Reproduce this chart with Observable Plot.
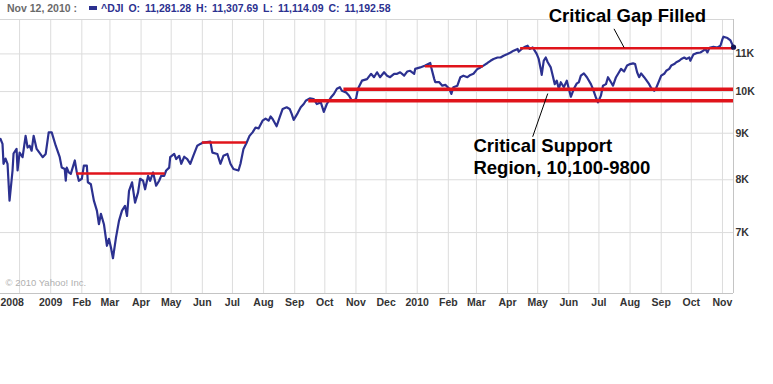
<!DOCTYPE html>
<html>
<head>
<meta charset="utf-8">
<script src="https://cdn.jsdelivr.net/npm/d3@7"></script>
<script src="https://cdn.jsdelivr.net/npm/@observablehq/plot@0.6"></script>
<style>
html, body { margin: 0; padding: 0; background: #fff; }
#wrap { position: relative; width: 773px; height: 384px; font-family: "Liberation Sans", Arial, sans-serif; }
#hdr { position: absolute; left: 7px; top: 2px; font-size: 10.5px; font-weight: bold; line-height: 13px; white-space: pre; }
#hdr .date { color: #6a6a6a; }
#hdr .sw { display: inline-block; width: 8px; height: 4px; background: #2c3190; margin-left: 12px; margin-right: 4px; position: relative; top: -2px; }
#hdr .q { color: #2c3190; word-spacing: 2px; }
#chart svg text { font-family: "Liberation Sans", Arial, sans-serif; }
</style>
</head>
<body>
<div id="wrap">
  <div id="chart"></div>
  <div id="hdr"></div>
</div>
<script>
// ---- header ----
const headerDate = "Nov 12, 2010 :";
const symbol = "^DJI";
const quoteLabels = ["O", "H", "L", "C"];
const quoteValues = [11281.28, 11307.69, 11114.09, 11192.58];

// ---- axes ----
const xDomain = ["2008-11-12", "2010-11-12"];
const yDomain = [6000, 12000];
const yTicks = [7000, 8000, 9000, 10000, 11000];
const xTickStart = "2008-12-01";
const xTickLabels = ["2008", "2009", "Feb", "Mar", "Apr", "May", "Jun", "Jul", "Aug", "Sep", "Oct", "Nov",
                     "Dec", "2010", "Feb", "Mar", "Apr", "May", "Jun", "Jul", "Aug", "Sep", "Oct", "Nov"];
const copyright = "© 2010 Yahoo! Inc.";

// ---- Dow Jones series ----
const djiDates = [
  "2008-11-12","2008-11-14","2008-11-15","2008-11-17","2008-11-19","2008-11-21","2008-11-24","2008-11-25","2008-11-28","2008-11-29",
  "2008-12-01","2008-12-04","2008-12-07","2008-12-09","2008-12-11","2008-12-13","2008-12-15","2008-12-18","2008-12-24","2008-12-27","2008-12-30",
  "2009-01-02","2009-01-06","2009-01-10","2009-01-12","2009-01-15","2009-01-16","2009-01-17","2009-01-19","2009-01-21","2009-01-25","2009-01-27","2009-01-29",
  "2009-02-01","2009-02-03","2009-02-06","2009-02-07","2009-02-10","2009-02-13","2009-02-16","2009-02-18","2009-02-20","2009-02-23","2009-02-26","2009-02-28",
  "2009-03-02","2009-03-04","2009-03-07","2009-03-10","2009-03-13","2009-03-16","2009-03-18","2009-03-20","2009-03-23","2009-03-26","2009-03-29","2009-03-31",
  "2009-04-03","2009-04-05","2009-04-08","2009-04-10","2009-04-13","2009-04-16","2009-04-19","2009-04-21","2009-04-24","2009-04-26","2009-04-29","2009-04-30",
  "2009-05-04","2009-05-06","2009-05-09","2009-05-11","2009-05-14","2009-05-17","2009-05-20","2009-05-23","2009-05-27","2009-05-30",
  "2009-06-02","2009-06-09","2009-06-11","2009-06-16","2009-06-19","2009-06-22","2009-06-26","2009-06-29",
  "2009-07-02","2009-07-07","2009-07-09","2009-07-12","2009-07-15","2009-07-18","2009-07-21","2009-07-24","2009-07-27","2009-07-31",
  "2009-08-03","2009-08-06","2009-08-08","2009-08-10","2009-08-14","2009-08-17","2009-08-20","2009-08-24","2009-08-27","2009-08-29","2009-08-31",
  "2009-09-04","2009-09-07","2009-09-10","2009-09-12","2009-09-16","2009-09-20","2009-09-23","2009-09-27","2009-09-30",
  "2009-10-03","2009-10-07","2009-10-10","2009-10-13","2009-10-16","2009-10-18","2009-10-22","2009-10-25","2009-10-28",
  "2009-11-01","2009-11-03","2009-11-07","2009-11-12","2009-11-16","2009-11-19","2009-11-22","2009-11-25","2009-11-29",
  "2009-12-02","2009-12-05","2009-12-09","2009-12-12","2009-12-15","2009-12-19","2009-12-22","2009-12-25","2009-12-29","2009-12-30",
  "2010-01-04","2010-01-09","2010-01-14","2010-01-15","2010-01-18","2010-01-19","2010-01-23","2010-01-26","2010-01-29",
  "2010-02-02","2010-02-04","2010-02-06","2010-02-10","2010-02-13","2010-02-16","2010-02-20","2010-02-23","2010-02-26",
  "2010-03-02","2010-03-05","2010-03-08","2010-03-12","2010-03-15","2010-03-18","2010-03-22","2010-03-25","2010-03-28",
  "2010-04-01","2010-04-04","2010-04-07","2010-04-11","2010-04-12","2010-04-16","2010-04-19","2010-04-21","2010-04-23","2010-04-26","2010-04-28","2010-04-30",
  "2010-05-02","2010-05-04","2010-05-05","2010-05-07","2010-05-09","2010-05-11","2010-05-14","2010-05-16","2010-05-18","2010-05-20","2010-05-22","2010-05-24","2010-05-27","2010-05-30",
  "2010-06-01","2010-06-03","2010-06-06","2010-06-09","2010-06-11","2010-06-13","2010-06-16","2010-06-19","2010-06-23","2010-06-25","2010-06-28","2010-06-30",
  "2010-07-03","2010-07-05","2010-07-08","2010-07-10","2010-07-13","2010-07-15","2010-07-18","2010-07-21","2010-07-23","2010-07-26","2010-07-29",
  "2010-08-01","2010-08-04","2010-08-06","2010-08-08","2010-08-10","2010-08-12","2010-08-15","2010-08-17","2010-08-20","2010-08-22","2010-08-25","2010-08-27","2010-08-30",
  "2010-09-01","2010-09-04","2010-09-06","2010-09-09","2010-09-11","2010-09-14","2010-09-16","2010-09-19","2010-09-21","2010-09-24","2010-09-26","2010-09-29","2010-09-30",
  "2010-10-03","2010-10-06","2010-10-10","2010-10-13","2010-10-15","2010-10-17","2010-10-19","2010-10-23","2010-10-27","2010-10-30",
  "2010-11-01","2010-11-02","2010-11-06","2010-11-09","2010-11-12"
];
const djiValues = [
  8870,8760,8330,8440,8330,7590,8190,8550,8650,8190,
  8570,8470,8940,8680,8720,8610,8940,8650,8470,8540,9020,
  9020,8720,8470,8250,8220,7980,8250,8150,8120,8400,8150,7980,
  8020,8290,8290,7950,7910,7590,7400,7150,7340,7150,6770,6890,
  6740,6560,6910,7210,7400,7490,7300,7780,7950,7550,7750,8020,
  7980,7810,8080,7980,8150,7880,7980,8080,8080,8190,8250,8470,
  8540,8430,8500,8330,8480,8430,8330,8500,8720,8760,
  8790,8810,8570,8540,8330,8500,8540,8330,
  8220,8190,8330,8650,8780,8940,9020,9130,9110,9290,
  9340,9290,9390,9330,9160,9370,9570,9610,9570,9450,9310,
  9470,9610,9690,9770,9830,9810,9690,9730,9500,
  9690,9850,9940,10070,10110,10020,9980,9900,9770,
  9810,10070,10280,10320,10460,10370,10500,10370,10500,
  10410,10370,10460,10460,10500,10410,10520,10540,10460,10590,
  10630,10680,10750,10630,10320,10240,10240,10150,10170,
  10070,9940,10110,10150,10370,10410,10370,10430,10460,
  10590,10630,10680,10750,10810,10860,10900,10900,10950,
  11000,11040,11090,11140,11060,11160,11210,11230,11140,11180,11090,11000,
  10860,10590,10430,10810,10900,10770,10630,10410,10190,10280,10070,10240,10110,10280,
  10070,9870,10070,10210,10240,10410,10470,10370,10190,10070,9850,9730,
  9900,10150,10190,10370,10240,10150,10370,10500,10590,10520,10680,
  10720,10740,10720,10500,10370,10470,10370,10300,10190,10090,10020,10090,10280,
  10410,10460,10540,10590,10680,10720,10770,10810,10860,10900,10860,10900,10810,
  10980,11020,11040,11090,11140,11040,11170,11200,11180,11230,
  11420,11490,11450,11380,11190
];

// ---- hand-drawn level lines ----
const levelStarts = ["2009-01-27", "2009-06-01", "2010-01-09", "2010-04-14"];
const levelEnds   = ["2009-04-25", "2009-07-15", "2010-03-08", "2010-11-12"];
const levelValues = [8130, 8790, 10660, 11160];
const supportStarts = ["2009-10-20", "2009-09-15"];
const supportEnds   = ["2010-11-12", "2010-11-12"];
const supportValues = [10060, 9770];

// ---- annotations ----
const noteTexts  = ["Critical Gap Filled", "Critical Support", "Region, 10,100-9800"];
const noteDates  = ["2010-05-12", "2010-02-26", "2010-02-26"];
const noteValues = [12090, 8710, 8240];
const leaderFromDates  = ["2010-07-16", "2010-04-26"];
const leaderFromValues = [11720, 8920];
const leaderToDates    = ["2010-07-26", "2010-05-11"];
const leaderToValues   = [11180, 9950];

// ---- build ----
const D = s => new Date(s);
const navy = "#2c3190";
const red = "#e0141b";

const series = djiDates.map((d, i) => ({date: D(d), value: djiValues[i]}));
const levels = levelValues.map((v, i) => ({start: D(levelStarts[i]), end: D(levelEnds[i]), value: v}));
const supports = supportValues.map((v, i) => ({start: D(supportStarts[i]), end: D(supportEnds[i]), value: v}));
const notes = noteTexts.map((t, i) => ({text: t, date: D(noteDates[i]), value: noteValues[i]}));
const leaders = leaderFromDates.map((d, i) => ({
  x1: D(d), y1: leaderFromValues[i], x2: D(leaderToDates[i]), y2: leaderToValues[i]
}));
const xTickDates = d3.utcMonth.range(D(xTickStart), d3.utcDay.offset(D(xDomain[1]), 1));
const tickLabelOf = new Map(xTickDates.map((d, i) => [+d, xTickLabels[i]]));

// header
const fmt = d3.format(",.2f");
const hdr = document.getElementById("hdr");
hdr.innerHTML = `<span class="date">${headerDate}</span><span class="sw"></span><span class="q">${symbol} ${
  quoteLabels.map((l, i) => `${l}: ${fmt(quoteValues[i])}`).join(" ")}</span>`;

const chart = Plot.plot({
  width: 773,
  height: 384,
  marginTop: 19,
  marginBottom: 91,
  marginLeft: 0,
  marginRight: 40,
  style: {fontFamily: "Liberation Sans, Arial, sans-serif", fontSize: "10.5px", color: "#333", background: "transparent", overflow: "visible"},
  x: {type: "utc", domain: xDomain.map(D)},
  y: {type: "log", domain: yDomain},
  marks: [
    Plot.ruleX(xTickDates, {stroke: "#dcdcdc", strokeWidth: 1}),
    Plot.ruleY(yTicks, {stroke: "#dcdcdc", strokeWidth: 1}),
    Plot.ruleY([yDomain[1]], {stroke: "#d6d6d6"}),
    Plot.ruleY([yDomain[0]], {stroke: "#c4c4c4"}),
    Plot.ruleX([D(xDomain[1])], {stroke: "#c4c4c4"}),
    Plot.text([copyright], {frameAnchor: "bottom-left", textAnchor: "start", dx: 5, dy: -8, fill: "#b0b0b0", fontSize: 9.5}),
    Plot.line(series, {x: "date", y: "value", stroke: navy, strokeWidth: 2.2, strokeLinejoin: "round"}),
    Plot.ruleY(levels, {y: "value", x1: "start", x2: "end", stroke: red, strokeWidth: 2.5}),
    Plot.ruleY(supports, {y: "value", x1: "start", x2: "end", stroke: red, strokeWidth: 3.5}),
    Plot.dot(series.slice(-1), {x: "date", y: "value", r: 2.6, fill: "#151555"}),
    Plot.link(leaders, {x1: "x1", y1: "y1", x2: "x2", y2: "y2", stroke: "#000", strokeWidth: 1}),
    Plot.text(notes, {x: "date", y: "value", text: "text", textAnchor: "start", fontSize: 18.5, fontWeight: "bold", fill: "#000"}),
    Plot.axisY({anchor: "right", ticks: yTicks, tickFormat: d => `${d / 1000}K`, tickSize: 0, tickPadding: 2, fontWeight: "bold", label: null}),
    Plot.axisX({ticks: xTickDates.slice(1), tickFormat: d => tickLabelOf.get(+d), tickSize: 0, tickPadding: 5, fontWeight: "bold", label: null}),
    Plot.text([xTickLabels[0]], {x: D(xDomain[0]), frameAnchor: "bottom", textAnchor: "start", lineAnchor: "top", dy: 5, fontWeight: "bold", fill: "#333"})
  ]
});
document.getElementById("chart").appendChild(chart);
</script>
</body>
</html>
